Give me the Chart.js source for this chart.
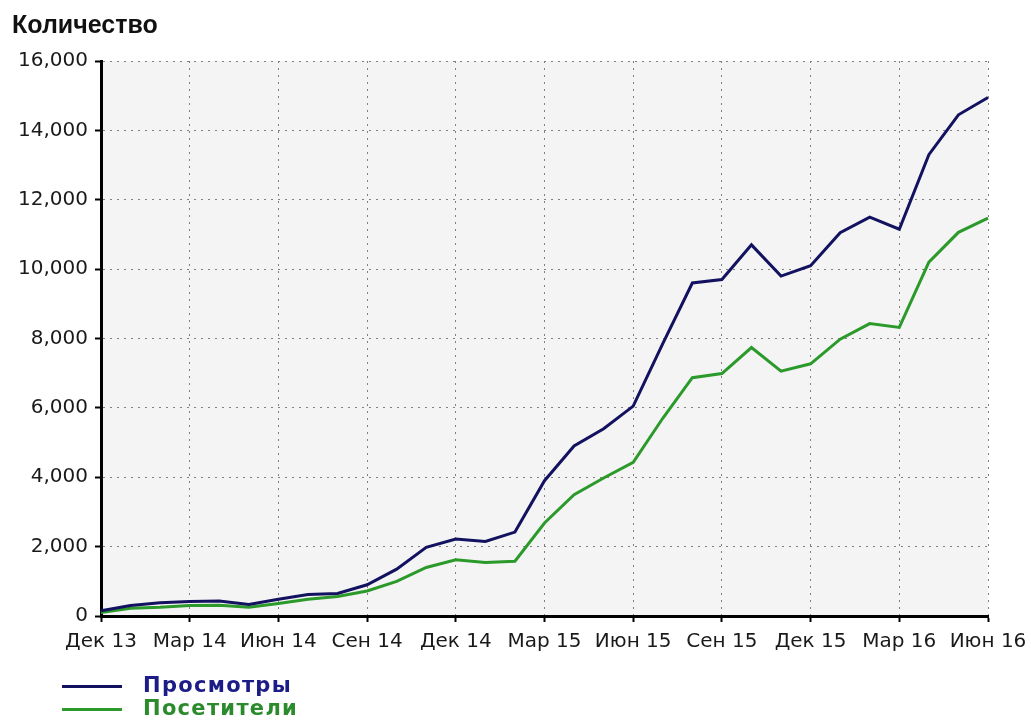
<!DOCTYPE html>
<html>
<head>
<meta charset="utf-8">
<script src="https://cdn.jsdelivr.net/npm/chart.js@4/dist/chart.umd.min.js"></script>
<style>
  html, body { margin: 0; padding: 0; background: #ffffff; }
  #wrap { position: relative; width: 1031px; height: 724px; overflow: hidden; }
  #c { position: absolute; left: 0; top: 0; }
  #title { position: absolute; left: 12px; top: 10px; font: bold 25px "Liberation Sans", Arial, sans-serif; color: #111; }
  .leg { position: absolute; left: 62px; height: 24px; }
  .leg .ln { position: absolute; left: 0; width: 60px; height: 0; }
  .leg .tx { position: absolute; left: 81px; top: -13px; font: bold 21px "DejaVu Sans", sans-serif; letter-spacing: 1.3px; white-space: nowrap; }
</style>
</head>
<body>
<div id="wrap">
  <canvas id="c" width="1031" height="724"></canvas>
  <div id="title">Количество</div>
  <div id="legend"></div>
</div>
<script>
const categories = ['Дек 13','Янв 14','Фев 14','Мар 14','Апр 14','Май 14','Июн 14','Июл 14','Авг 14','Сен 14','Окт 14','Ноя 14',
  'Дек 14','Янв 15','Фев 15','Мар 15','Апр 15','Май 15','Июн 15','Июл 15','Авг 15','Сен 15','Окт 15','Ноя 15',
  'Дек 15','Янв 16','Фев 16','Мар 16','Апр 16','Май 16','Июн 16'];
const xTickLabels = ['Дек 13','Мар 14','Июн 14','Сен 14','Дек 14','Мар 15','Июн 15','Сен 15','Дек 15','Мар 16','Июн 16'];
const yTicks = [0, 2000, 4000, 6000, 8000, 10000, 12000, 14000, 16000];
const seriesNames = ['Просмотры', 'Посетители'];
const seriesLineColors = ['#121260', '#2b9a2b'];
const seriesTextColors = ['#1c1c88', '#2b8a2b'];
const views = [150,300,380,420,430,330,480,620,650,900,1350,1980,2220,2150,2420,3900,4900,5400,6050,7850,9600,9700,10700,9800,10100,11050,11500,11150,13300,14450,14950];
const visitors = [100,220,250,300,310,250,360,480,560,720,1000,1400,1620,1540,1580,2680,3500,3980,4430,5700,6870,6990,7740,7060,7270,7980,8430,8320,10200,11060,11470];
const seriesValues = [views, visitors];

// HTML legend built from the series arrays
const legendTops = [686, 709];
const legend = document.getElementById('legend');
seriesNames.forEach((name, i) => {
  const d = document.createElement('div');
  d.className = 'leg';
  d.style.top = legendTops[i] + 'px';
  const ln = document.createElement('div');
  ln.className = 'ln';
  ln.style.borderTop = '3px solid ' + seriesLineColors[i];
  ln.style.top = '-1px';
  const tx = document.createElement('div');
  tx.className = 'tx';
  tx.style.color = seriesTextColors[i];
  tx.textContent = name;
  d.appendChild(ln); d.appendChild(tx);
  legend.appendChild(d);
});

const plotBg = {
  id: 'plotBg',
  beforeDraw(chart) {
    const a = chart.chartArea, ctx = chart.ctx;
    ctx.save();
    ctx.fillStyle = '#f4f4f4';
    ctx.fillRect(a.left, a.top, a.right - a.left, a.bottom - a.top);
    ctx.restore();
  }
};

const isMajor = (i) => xTickLabels.includes(categories[i]);

new Chart(document.getElementById('c'), {
  type: 'line',
  data: {
    labels: categories,
    datasets: seriesNames.map((name, i) => ({
      label: name,
      data: seriesValues[i],
      borderColor: seriesLineColors[i],
      backgroundColor: seriesLineColors[i],
      borderWidth: 3,
      pointRadius: 0,
      tension: 0,
      fill: false
    }))
  },
  options: {
    responsive: false,
    animation: false,
    devicePixelRatio: 1,
    layout: { padding: { top: 61, right: 43, left: 0, bottom: 0 } },
    plugins: { legend: { display: false }, title: { display: false }, tooltip: { enabled: false } },
    scales: {
      x: {
        type: 'category',
        offset: false,
        afterFit(scale) { scale.height = 108; scale.paddingLeft = 0; scale.paddingRight = 0; },
        grid: {
          color: (ctx) => isMajor(ctx.index) ? '#808080' : 'rgba(0,0,0,0)',
          lineWidth: 1,
          drawTicks: true,
          tickLength: 6,
          tickColor: (ctx) => isMajor(ctx.index) ? '#000' : 'rgba(0,0,0,0)',
          tickWidth: 2
        },
        border: { display: true, color: '#000', width: 3, dash: [2, 5] },
        ticks: {
          autoSkip: false,
          maxRotation: 0,
          padding: 8,
          color: '#1a1a1a',
          font: { family: 'DejaVu Sans', size: 20 },
          callback: (v, i) => isMajor(i) ? categories[i] : ''
        }
      },
      y: {
        min: yTicks[0],
        max: yTicks[yTicks.length - 1],
        afterFit(scale) { scale.width = 101; },
        afterBuildTicks(scale) { scale.ticks = yTicks.map(v => ({ value: v })); },
        grid: { color: '#808080', lineWidth: 1, tickLength: 6, tickColor: '#000', tickWidth: 2 },
        border: { display: true, color: '#000', width: 3, dash: [2, 5] },
        ticks: {
          padding: 7,
          color: '#1a1a1a',
          font: { family: 'DejaVu Sans', size: 20 },
          callback: (v) => v.toLocaleString('en-US')
        }
      }
    }
  },
  plugins: [plotBg]
});
</script>
</body>
</html>
